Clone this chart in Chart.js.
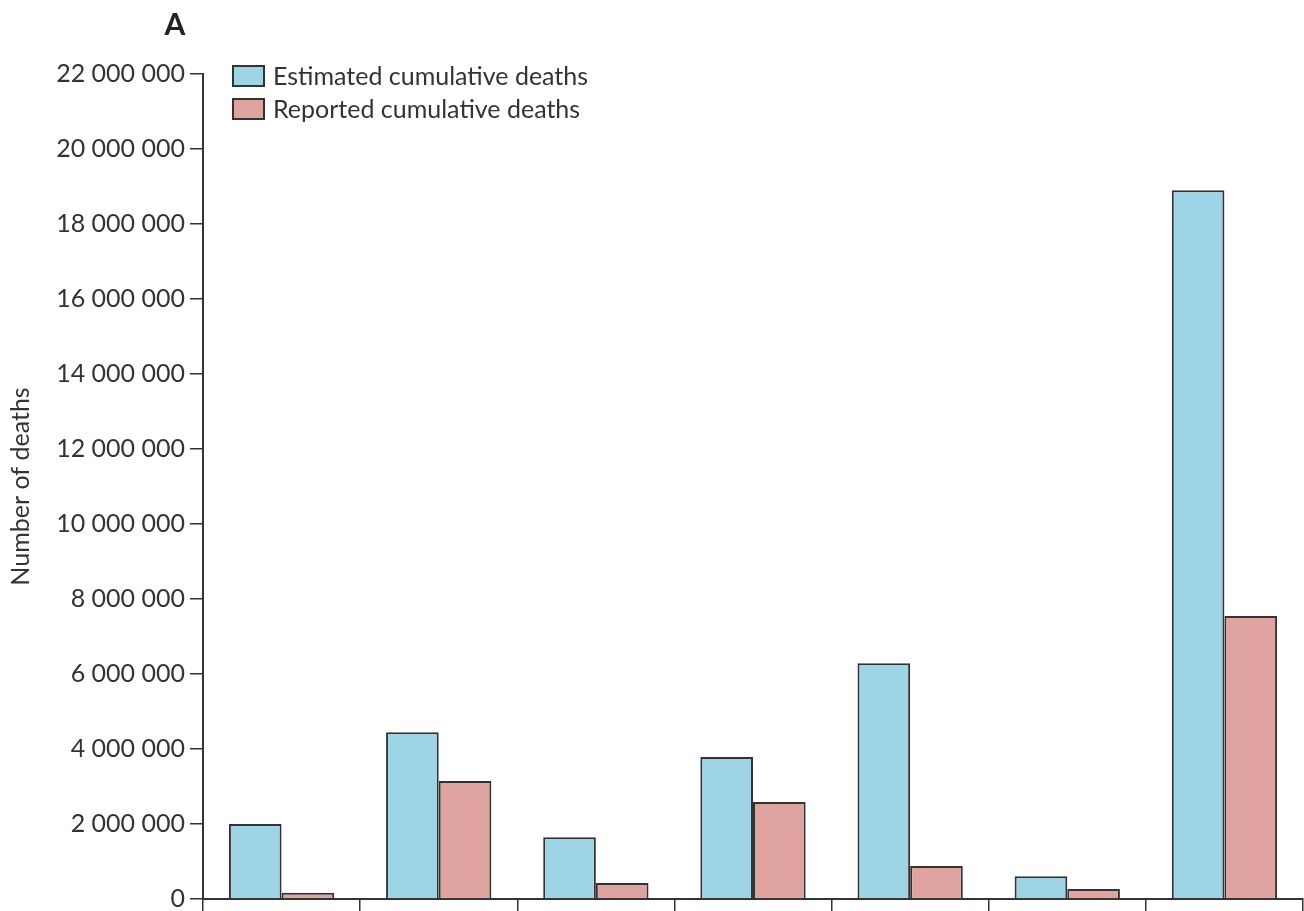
<!DOCTYPE html>
<html>
<head>
<meta charset="utf-8">
<script src="https://cdn.jsdelivr.net/npm/chart.js@4"></script>
<style>
  html, body { margin: 0; padding: 0; background: #fff; }
  #wrap { width: 1304px; height: 911px; }
</style>
</head>
<body>
<div id="wrap"><canvas id="chart"></canvas></div>
<script>
const categories = ["1", "2", "3", "4", "5", "6", "7"];
const estimatedDeaths = [2000000, 4450000, 1650000, 3790000, 6290000, 610000, 18900000];
const reportedDeaths = [170000, 3150000, 430000, 2590000, 880000, 270000, 7550000];
const seriesNames = ["Estimated cumulative deaths", "Reported cumulative deaths"];
const seriesColors = ["#9dd4e6", "#e0a4a0"];
const yTicks = [0, 2000000, 4000000, 6000000, 8000000, 10000000, 12000000, 14000000, 16000000, 18000000, 20000000, 22000000];

const font = "Lato";
const ink = "#333";

// 22000000 -> "22 000 000"
function spaced(v) {
    return String(v).replace(/\B(?=(\d{3})+(?!\d))/g, " ");
}

// panel letter + stacked legend drawn inside the plot
const extras = {
    id: 'extras',
    afterDraw(chart) {
        const c = chart.ctx;
        c.save();
        c.fillStyle = "#222";
        c.font = "bold 30px " + font;
        c.textAlign = "center";
        c.textBaseline = "middle";
        c.fillText("A", 175, 25);

        c.textAlign = "left";
        c.font = "25px " + font;
        c.lineWidth = 2;
        seriesNames.forEach((name, i) => {
            const y = 66 + i * 33;
            c.fillStyle = seriesColors[i];
            c.fillRect(233, y, 31, 20);
            c.strokeStyle = ink;
            c.strokeRect(233, y, 31, 20);
            c.fillStyle = "#333";
            c.fillText(name, 273, y + 11);
        });
        c.restore();
    }
};

new Chart(document.getElementById('chart'), {
    type: 'bar',
    data: {
        labels: categories,
        datasets: [{
            label: seriesNames[0],
            data: estimatedDeaths,
            backgroundColor: seriesColors[0],
            borderColor: ink,
            borderWidth: 2,
            categoryPercentage: 0.67,
            barPercentage: 1.0
        }, {
            label: seriesNames[1],
            data: reportedDeaths,
            backgroundColor: seriesColors[1],
            borderColor: ink,
            borderWidth: 2,
            categoryPercentage: 0.67,
            barPercentage: 1.0
        }]
    },
    options: {
        responsive: true,
        maintainAspectRatio: false,
        animation: false,
        layout: {
            padding: { top: 74, right: 1, bottom: 0, left: 0 }
        },
        plugins: {
            legend: { display: false },
            tooltip: { enabled: false }
        },
        scales: {
            x: {
                offset: true,
                grid: {
                    offset: true,
                    drawOnChartArea: false,
                    drawTicks: true,
                    tickLength: 12,
                    color: ink,
                    lineWidth: 1.5
                },
                border: { color: ink, width: 2 },
                ticks: { display: false },
                afterFit(scale) { scale.height = 12; }
            },
            y: {
                min: 0,
                max: 22000000,
                afterBuildTicks(scale) {
                    scale.ticks = yTicks.map(v => ({ value: v }));
                },
                grid: {
                    drawOnChartArea: false,
                    drawTicks: true,
                    tickLength: 13,
                    color: ink,
                    lineWidth: 1.5
                },
                border: { color: ink, width: 2 },
                ticks: {
                    color: "#333",
                    padding: 5,
                    font: { family: font, size: 25, lineHeight: 0.5 },
                    callback: v => spaced(v)
                },
                title: {
                    display: true,
                    text: "Number of deaths",
                    color: "#333",
                    font: { family: font, size: 25 },
                    padding: { top: 6, bottom: 0 }
                },
                afterFit(scale) { scale.width = 203; }
            }
        }
    },
    plugins: [extras]
});
</script>
</body>
</html>
